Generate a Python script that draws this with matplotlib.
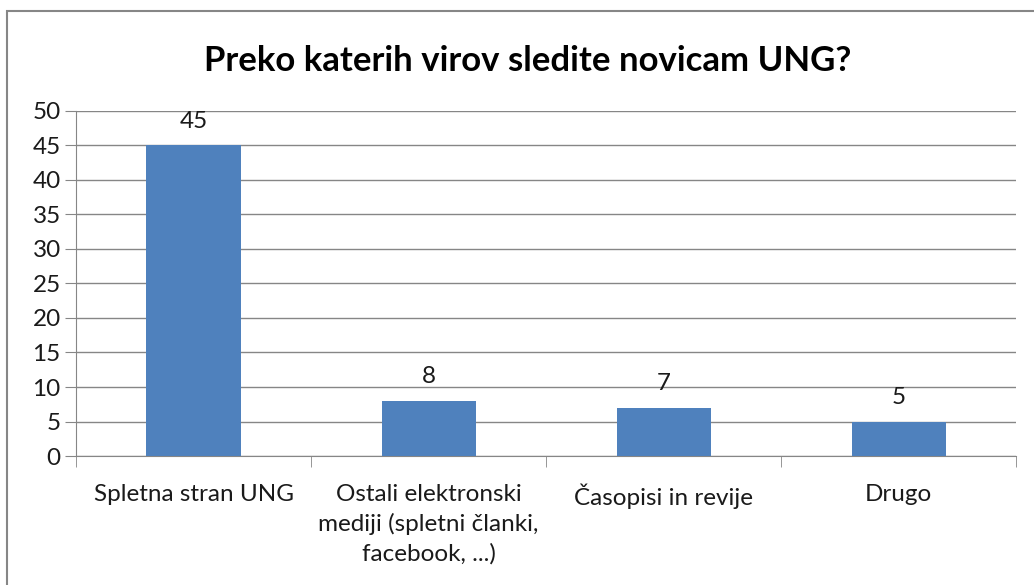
import matplotlib.pyplot as plt
import numpy as np
from matplotlib.patches import Rectangle

categories = [
    "Spletna stran UNG",
    "Ostali elektronski\nmediji (spletni članki,\nfacebook, ...)",
    "Časopisi in revije",
    "Drugo",
]
values = [45, 8, 7, 5]
title = "Preko katerih virov sledite novicam UNG?"

plt.rcParams["font.family"] = ["Lato", "DejaVu Sans"]

fig = plt.figure(figsize=(10.34, 5.85), dpi=100)
ax = fig.add_axes([0.0735, 0.2205, 0.9091, 0.5898])

x = np.arange(len(categories))
bars = ax.bar(x, values, width=0.4, color="#4F81BD", zorder=3)
for b, v in zip(bars, values):
    ax.annotate(str(v), (b.get_x() + b.get_width() / 2, v), xytext=(0, 10),
                textcoords="offset points", ha="center", va="bottom",
                fontsize=17.5, color="#1a1a1a")

ax.set_xlim(-0.5, len(categories) - 0.5)
ax.set_ylim(0, 50)
ax.set_yticks(range(0, 51, 5))
ax.set_xticks(x)
ax.set_xticklabels(categories, fontsize=17.5, color="#1a1a1a", linespacing=1.45)
ax.set_xticks(np.arange(-0.5, len(categories), 1), minor=True)
ax.tick_params(axis="x", which="major", length=0, pad=20)
ax.tick_params(axis="x", which="minor", length=8, color="#868686", direction="out")
ax.tick_params(axis="y", length=8, color="#868686", labelsize=17.5, labelcolor="#1a1a1a", pad=3)

ax.grid(axis="y", color="#868686", linewidth=1, zorder=0)
for s in ["top", "right"]:
    ax.spines[s].set_visible(False)
for s in ["left", "bottom"]:
    ax.spines[s].set_color("#868686")

fig.text(0.51, 0.895, title, ha="center", va="center", fontsize=25, fontweight="bold")

fig.patches.append(Rectangle((7 / 1034, -0.05), 1.1, 1 - 11 / 585 + 0.05,
                             transform=fig.transFigure, fill=False,
                             edgecolor="#868686", linewidth=1.5))

fig.savefig("out.png", dpi=100)
